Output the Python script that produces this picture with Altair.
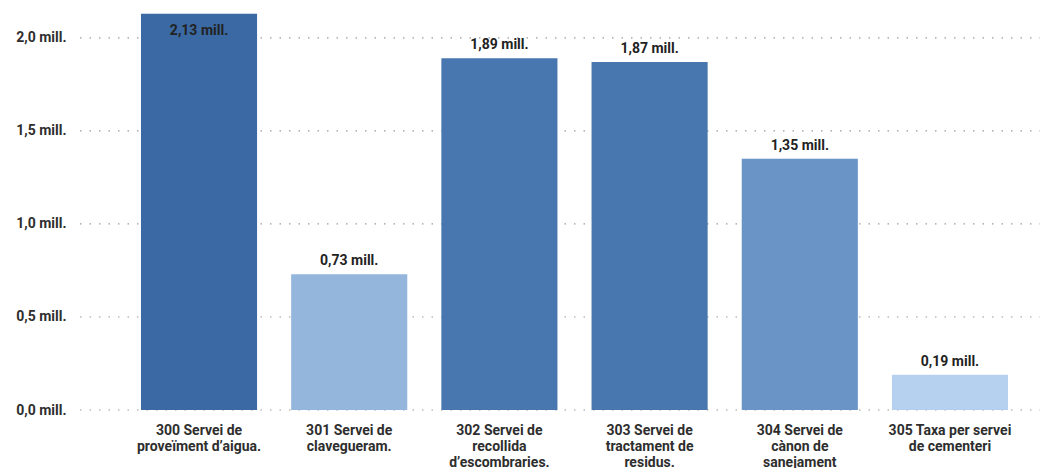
import altair as alt
import pandas as pd

categories = [
    "300 Servei de|proveïment d’aigua.",
    "301 Servei de|clavegueram.",
    "302 Servei de|recollida|d’escombraries.",
    "303 Servei de|tractament de|residus.",
    "304 Servei de|cànon de|sanejament",
    "305 Taxa per servei|de cementeri",
]
values = [2.13, 0.73, 1.89, 1.87, 1.35, 0.19]
labels = ["2,13 mill.", "0,73 mill.", "1,89 mill.", "1,87 mill.", "1,35 mill.", "0,19 mill."]
colors = ["#3a69a3", "#95b6dc", "#4877af", "#4877af", "#6a94c6", "#b6d1ef"]
grid_values = [0.0, 0.5, 1.0, 1.5, 2.0]

df = pd.DataFrame({"cat": categories, "value": values, "label": labels, "color": colors})
grid_df = pd.DataFrame({"g": grid_values})

FONT = "Roboto"
W, H = 901, 400

xscale = alt.Scale(domain=categories, paddingInner=0.227, paddingOuter=0.113)
yscale = alt.Scale(domain=[0, 2.15], nice=False)

grid = alt.Chart(grid_df).mark_rule(
    color="#9a9a9a", strokeDash=[1.5, 8], strokeWidth=1.2
).encode(
    y=alt.Y("g:Q", scale=yscale),
    x=alt.value(-44),
    x2=alt.value(W + 15),
)

bars = alt.Chart(df).mark_bar().encode(
    x=alt.X(
        "cat:N", scale=xscale, sort=categories, title=None,
        axis=alt.Axis(
            labelExpr="split(datum.label, '|')", labelAngle=0, labelFont=FONT,
            labelFontSize=14, labelFontWeight="bold", labelColor="#2e2e2e",
            labelPadding=13, labelLineHeight=16, ticks=False, domain=False,
            labelBaseline="top", labelLimit=200,
        ),
    ),
    y=alt.Y(
        "value:Q", scale=yscale, title=None,
        axis=alt.Axis(
            values=grid_values, labelExpr="replace(format(datum.value, '.1f'), '.', ',') + ' mill.'",
            labelFont=FONT, labelFontSize=14, labelFontWeight="bold", labelColor="#2e2e2e",
            labelPadding=58, ticks=False, domain=False, grid=False,
        ),
    ),
    color=alt.Color("color:N", scale=None),
)

text_above = alt.Chart(df).transform_filter("datum.value < 2.1").mark_text(
    font=FONT, fontSize=14, fontWeight="bold", color="#222222", baseline="bottom", dy=-6
).encode(
    x=alt.X("cat:N", scale=xscale, sort=categories),
    y=alt.Y("value:Q", scale=yscale),
    text="label:N",
)

text_inside = alt.Chart(df).transform_filter("datum.value >= 2.1").mark_text(
    font=FONT, fontSize=14, fontWeight="bold", color="#222222", baseline="top", dy=10
).encode(
    x=alt.X("cat:N", scale=xscale, sort=categories),
    y=alt.Y("value:Q", scale=yscale),
    text="label:N",
)

chart = alt.layer(grid, bars, text_above, text_inside).properties(
    width=W, height=H,
    autosize=alt.AutoSizeParams(type="none"),
    padding={"left": 116, "top": 2, "right": 20, "bottom": 58},
).configure_view(stroke=None)

chart.save("out.html", embed_options={"renderer": "svg", "actions": False})
